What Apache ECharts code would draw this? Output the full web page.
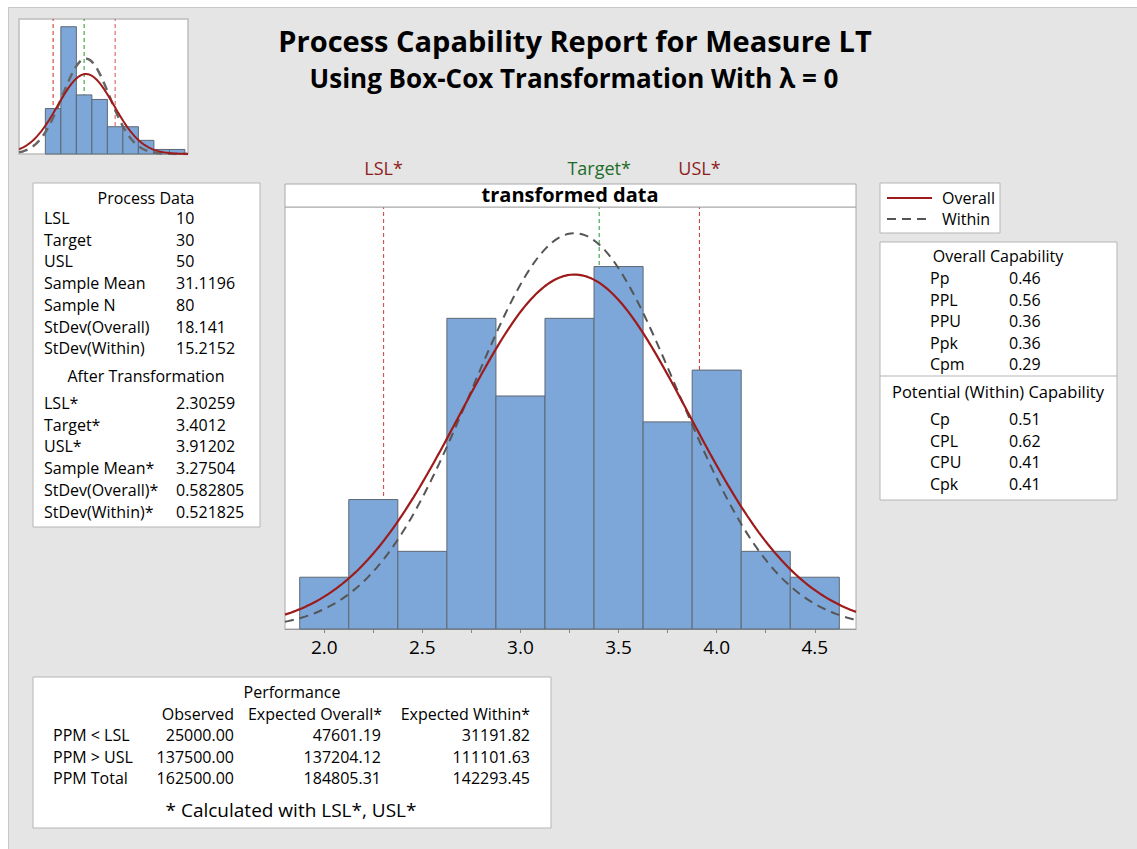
<!DOCTYPE html>
<html>
<head>
<meta charset="utf-8">
<script src="https://cdn.jsdelivr.net/npm/echarts@6/dist/echarts.min.js"></script>
<style>
  html, body { margin: 0; padding: 0; background: #fff; }
  #panel { position: absolute; left: 8px; top: 7px; right: 0; bottom: 0; background: #e5e5e5;
           border-left: 1px solid #c8c8c8; border-top: 1px solid #c8c8c8; }
  #chartsDom { position: absolute; left: 0; top: 0; width: 1137px; height: 849px; }
</style>
</head>
<body>
<div id="panel"></div>
<div id="chartsDom"></div>
<script>
// histogram of transformed data (ln of Measure LT)
const binCenters = [2.0, 2.25, 2.5, 2.75, 3.0, 3.25, 3.5, 3.75, 4.0, 4.25, 4.5];
const binCounts = [2, 5, 3, 12, 9, 12, 14, 8, 10, 3, 2];
const binWidth = 0.25;
const xLabelTicks = [2.0, 2.5, 3.0, 3.5, 4.0, 4.5];
const xAllTicks = [2.0, 2.25, 2.5, 2.75, 3.0, 3.25, 3.5, 3.75, 4.0, 4.25, 4.5];

// thumbnail: histogram of original data
const rawCenters = [10, 20, 30, 40, 50, 60, 70, 80, 90];
const rawCounts = [10, 28, 13, 12, 6, 6, 3, 1, 1];
const rawBinWidth = 10;

// spec limits
const specNames = ["LSL*", "Target*", "USL*"];
const specRaw = [10, 30, 50];
const specTrans = [2.30259, 3.4012, 3.91202];

// fitted parameters
const sampleN = 80;
const meanRaw = 31.1196, sdOverallRaw = 18.141, sdWithinRaw = 15.2152;
const meanT = 3.27504, sdOverallT = 0.582805, sdWithinT = 0.521825;

// tables
const processLabels = ["LSL", "Target", "USL", "Sample Mean", "Sample N", "StDev(Overall)", "StDev(Within)"];
const processValues = ["10", "30", "50", "31.1196", "80", "18.141", "15.2152"];
const transLabels = ["LSL*", "Target*", "USL*", "Sample Mean*", "StDev(Overall)*", "StDev(Within)*"];
const transValues = ["2.30259", "3.4012", "3.91202", "3.27504", "0.582805", "0.521825"];
const overallCapLabels = ["Pp", "PPL", "PPU", "Ppk", "Cpm"];
const overallCapValues = ["0.46", "0.56", "0.36", "0.36", "0.29"];
const withinCapLabels = ["Cp", "CPL", "CPU", "Cpk"];
const withinCapValues = ["0.51", "0.62", "0.41", "0.41"];
const perfRows = ["PPM < LSL", "PPM > USL", "PPM Total"];
const perfObserved = ["25000.00", "137500.00", "162500.00"];
const perfExpOverall = ["47601.19", "137204.12", "184805.31"];
const perfExpWithin = ["31191.82", "111101.63", "142293.45"];

const FONT = '"Open Sans", "Noto Sans", sans-serif';
const mainX = { min: 1.8, max: 4.71 }, mainYMax = 16.3;
const thumbX = { min: -12, max: 97 }, thumbYMax = 29.7;

// fitted normal density scaled to histogram counts
function normalCurve(mean, sd, scale, lo, hi) {
  const pts = [];
  for (let i = 0; i <= 200; i++) {
    const x = lo + (hi - lo) * i / 200;
    const z = (x - mean) / sd;
    pts.push([x, scale * Math.exp(-z * z / 2) / (sd * Math.sqrt(2 * Math.PI))]);
  }
  return pts;
}

function histRender(params, api) {
  const w = params.seriesIndex === 0 ? binWidth : rawBinWidth;
  const p1 = api.coord([api.value(0) - w / 2, api.value(1)]);
  const p2 = api.coord([api.value(0) + w / 2, 0]);
  return {
    type: "rect",
    shape: { x: p1[0], y: p1[1], width: p2[0] - p1[0], height: p2[1] - p1[1] },
    style: { fill: "#7ca7d8", stroke: "#5f6873", lineWidth: 1 }
  };
}

function specLine(x, ymax, color, axis) {
  return {
    type: "line", xAxisIndex: axis, yAxisIndex: axis, silent: true, z: 1,
    symbol: "none", data: [[x, 0], [x, ymax]],
    lineStyle: { color: color, width: 1, type: [4, 3] }
  };
}

function curve(data, color, dashed, axis, width) {
  return {
    type: "line", xAxisIndex: axis, yAxisIndex: axis, silent: true,
    symbol: "none", data: data, z: dashed ? 3 : 4,
    lineStyle: { color: color, width: width, type: dashed ? [9, 6] : "solid" }
  };
}

const myChart = echarts.init(document.getElementById("chartsDom"), null, { renderer: "svg" });

const option = {
  animation: false,
  backgroundColor: "transparent",
  grid: [
    { left: 285, top: 207, width: 571, height: 422, show: true, backgroundColor: "#fff", borderColor: "#a8a8a8" },
    { left: 19, top: 19, width: 169, height: 135, show: true, backgroundColor: "#fff", borderColor: "#bdbdbd", borderWidth: 1.5 }
  ],
  xAxis: [
    {
      type: "value", gridIndex: 0, min: mainX.min, max: mainX.max,
      axisLine: { show: true, lineStyle: { color: "#999" } },
      axisTick: { show: true, length: 4, customValues: xAllTicks, lineStyle: { color: "#888" } },
      axisLabel: { customValues: xLabelTicks, formatter: v => v.toFixed(1), fontSize: 19, color: "#000", margin: 8, fontFamily: FONT },
      splitLine: { show: false }
    },
    { type: "value", gridIndex: 1, min: thumbX.min, max: thumbX.max, show: false }
  ],
  yAxis: [
    { type: "value", gridIndex: 0, min: 0, max: mainYMax, show: false },
    { type: "value", gridIndex: 1, min: 0, max: thumbYMax, show: false }
  ],
  series: [
    { type: "custom", xAxisIndex: 0, yAxisIndex: 0, z: 2, renderItem: histRender,
      data: binCenters.map((c, i) => [c, binCounts[i]]) },
    { type: "custom", xAxisIndex: 1, yAxisIndex: 1, z: 2, renderItem: histRender,
      data: rawCenters.map((c, i) => [c, rawCounts[i]]) },
    specLine(specTrans[0], mainYMax, "#d83a3a", 0),
    specLine(specTrans[1], mainYMax, "#1d9a2a", 0),
    specLine(specTrans[2], mainYMax, "#d03030", 0),
    specLine(specRaw[0], thumbYMax, "#d42a2a", 1),
    specLine(specRaw[1], thumbYMax, "#1d9a2a", 1),
    specLine(specRaw[2], thumbYMax, "#d85050", 1),
    curve(normalCurve(meanT, sdWithinT, sampleN * binWidth, mainX.min, mainX.max), "#555", true, 0, 2),
    curve(normalCurve(meanT, sdOverallT, sampleN * binWidth, mainX.min, mainX.max), "#9e1b1b", false, 0, 2.2),
    curve(normalCurve(meanRaw, sdWithinRaw, sampleN * rawBinWidth, thumbX.min, thumbX.max), "#666", true, 1, 2.5),
    curve(normalCurve(meanRaw, sdOverallRaw, sampleN * rawBinWidth, thumbX.min, thumbX.max), "#9e1b1b", false, 1, 2)
  ]
};
myChart.setOption(option);

// --- graphic: titles, boxes and tables ---
function txt(x, y, text, size, opts) {
  opts = opts || {};
  return {
    type: "text", x: x, y: y, silent: true, z: 10,
    style: {
      text: text, fill: opts.color || "#000",
      font: (opts.bold ? "bold " : "") + size + "px " + FONT,
      align: opts.align || "left", verticalAlign: "middle"
    }
  };
}
function box(x, y, w, h, stroke) {
  return { type: "rect", silent: true, z: 5, shape: { x: x, y: y, width: w, height: h },
    style: { fill: "#fff", stroke: stroke || "#b5b5b5", lineWidth: 1 } };
}
function hline(x1, x2, y, color) {
  return { type: "line", silent: true, z: 6, shape: { x1: x1, y1: y, x2: x2, y2: y },
    style: { stroke: color || "#b5b5b5", lineWidth: 1 } };
}

const g = [];
g.push(txt(575, 40, "Process Capability Report for Measure LT", 29, { bold: true, align: "center" }));
g.push(txt(574, 78, "Using Box-Cox Transformation With λ = 0", 26, { bold: true, align: "center" }));

// spec labels above the plot header
const specColors = ["#8e1c1c", "#1f6b2a", "#8e1c1c"];
specTrans.forEach((v, i) => {
  const px = myChart.convertToPixel({ xAxisIndex: 0 }, v);
  g.push(txt(px, 168, specNames[i], 18, { color: specColors[i], align: "center" }));
});

// header of main plot
g.push(box(285, 184, 571, 23, "#a8a8a8"));
g.push(txt(570, 194, "transformed data", 20, { bold: true, align: "center" }));

// legend
g.push(box(880, 183, 120, 50));
g.push({ type: "line", silent: true, z: 6, shape: { x1: 887, y1: 198, x2: 932, y2: 198 }, style: { stroke: "#9e1b1b", lineWidth: 2 } });
g.push({ type: "line", silent: true, z: 6, shape: { x1: 887, y1: 219, x2: 932, y2: 219 }, style: { stroke: "#555", lineWidth: 2, lineDash: [9, 6] } });
g.push(txt(942, 198, "Overall", 16));
g.push(txt(942, 219, "Within", 16));

// process data
g.push(box(33, 183, 227, 344));
g.push(txt(146, 198, "Process Data", 16, { align: "center" }));
processLabels.forEach((l, i) => {
  const y = 218 + i * 21.7;
  g.push(txt(44, y, l, 16));
  g.push(txt(176, y, processValues[i], 16));
});
g.push(txt(146, 376, "After Transformation", 16, { align: "center" }));
transLabels.forEach((l, i) => {
  const y = 403 + i * 21.7;
  g.push(txt(44, y, l, 16));
  g.push(txt(176, y, transValues[i], 16));
});

// capability
g.push(box(880, 242, 237, 258));
g.push(hline(880, 1117, 376));
g.push(txt(998, 256, "Overall Capability", 16, { align: "center" }));
overallCapLabels.forEach((l, i) => {
  const y = 278 + i * 21.6;
  g.push(txt(930, y, l, 16));
  g.push(txt(1009, y, overallCapValues[i], 16));
});
g.push(txt(998, 391, "Potential (Within) Capability", 16.5, { align: "center" }));
withinCapLabels.forEach((l, i) => {
  const y = 419 + i * 21.6;
  g.push(txt(930, y, l, 16));
  g.push(txt(1009, y, withinCapValues[i], 16));
});

// performance
g.push(box(33, 677, 518, 151));
g.push(txt(292, 692, "Performance", 16, { align: "center" }));
g.push(txt(234, 714, "Observed", 16, { align: "right" }));
g.push(txt(382, 714, "Expected Overall*", 16, { align: "right" }));
g.push(txt(530, 714, "Expected Within*", 16, { align: "right" }));
perfRows.forEach((l, i) => {
  const y = 735 + i * 21.5;
  g.push(txt(53, y, l, 16));
  g.push(txt(234, y, perfObserved[i], 16, { align: "right" }));
  g.push(txt(381, y, perfExpOverall[i], 16, { align: "right" }));
  g.push(txt(530, y, perfExpWithin[i], 16, { align: "right" }));
});
g.push(txt(291, 810, "* Calculated with LSL*, USL*", 19, { align: "center" }));

myChart.setOption({ graphic: g });
</script>
</body>
</html>
